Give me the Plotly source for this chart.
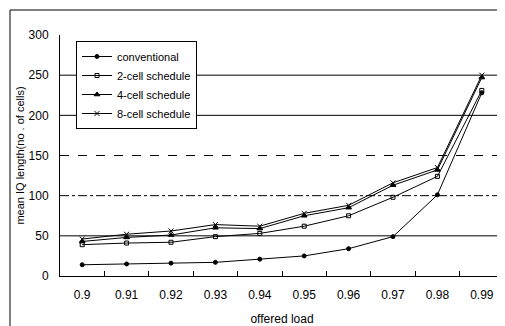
import plotly.graph_objects as go

loads = ["0.9", "0.91", "0.92", "0.93", "0.94", "0.95", "0.96", "0.97", "0.98", "0.99"]
conventional = [14, 15, 16, 17, 21, 25, 34, 49, 101, 228]
cell2 = [39, 41, 42, 49, 53, 62, 75, 98, 124, 231]
cell4 = [43, 48, 51, 60, 59, 75, 85, 113, 132, 247]
cell8 = [46, 52, 56, 64, 62, 78, 88, 116, 135, 250]
series_names = ["conventional", "2-cell schedule", "4-cell schedule", "8-cell schedule"]
y_ticks = [0, 50, 100, 150, 200, 250, 300]
grid_levels = [50, 100, 150, 200, 250]
grid_dash = ["solid", "dashdot", "dash", "solid", "solid"]

symbols = ["circle", "square-open", "triangle-up", "x-thin-open"]
sizes = [4, 4, 5, 5]

# page has an 8px body margin; figure is sized / offset to compensate
W, H = 497, 318
L, T, R, B = 52, 27, 1, 50
pw, ph = W - L - R, H - T - B

fig = go.Figure()
for name, vals, sym, sz in zip(series_names, [conventional, cell2, cell4, cell8], symbols, sizes):
    fig.add_trace(go.Scatter(
        x=loads, y=vals, name=name, mode="lines+markers",
        line=dict(color="black", width=1),
        marker=dict(symbol=sym, size=sz, color="black", line=dict(color="black", width=1)),
    ))

shapes = []
for lvl, d in zip(grid_levels, grid_dash):
    shapes.append(dict(type="line", xref="paper", yref="y", x0=0, x1=1, y0=lvl, y1=lvl,
                       line=dict(color="black", width=1, dash=d), layer="below"))
# outer frame (left and top edges visible in the picture)
fx0 = (2 - L) / pw
fy1 = 1 + (T - 2) / ph
shapes.append(dict(type="line", xref="paper", yref="paper", x0=fx0, x1=fx0, y0=-B / ph, y1=fy1,
                   line=dict(color="black", width=1)))
shapes.append(dict(type="line", xref="paper", yref="paper", x0=fx0, x1=1 + R / pw, y0=fy1, y1=fy1,
                   line=dict(color="black", width=1)))

fig.update_layout(
    width=W, height=H, autosize=False,
    margin=dict(l=L, r=R, t=T, b=B, pad=0),
    paper_bgcolor="white", plot_bgcolor="white",
    font=dict(family="Liberation Sans, Arial, sans-serif", size=12, color="black"),
    showlegend=True,
    legend=dict(x=16 / pw, y=1 - 6 / ph, xanchor="left", yanchor="top",
                bgcolor="white", bordercolor="black", borderwidth=1,
                font=dict(size=11), tracegroupgap=0, itemwidth=30,
                traceorder="normal"),
    shapes=shapes,
    xaxis=dict(type="category", showgrid=False, showline=True, linecolor="black", linewidth=1,
               ticks="inside", ticklen=5, tickcolor="black", tickson="boundaries",
               ticklabelstandoff=8,
               title=dict(text="offered load", standoff=13, font=dict(size=12)),
               range=[-0.5, 9.5], zeroline=False),
    yaxis=dict(range=[0, 300], tickvals=y_ticks, showgrid=False, showline=True,
               linecolor="black", linewidth=1, ticks="", zeroline=False,
               ticklabelstandoff=8,
               title=dict(text="mean IQ length(no . of cells)", standoff=1, font=dict(size=11))),
)

fig.write_html("out.html")
